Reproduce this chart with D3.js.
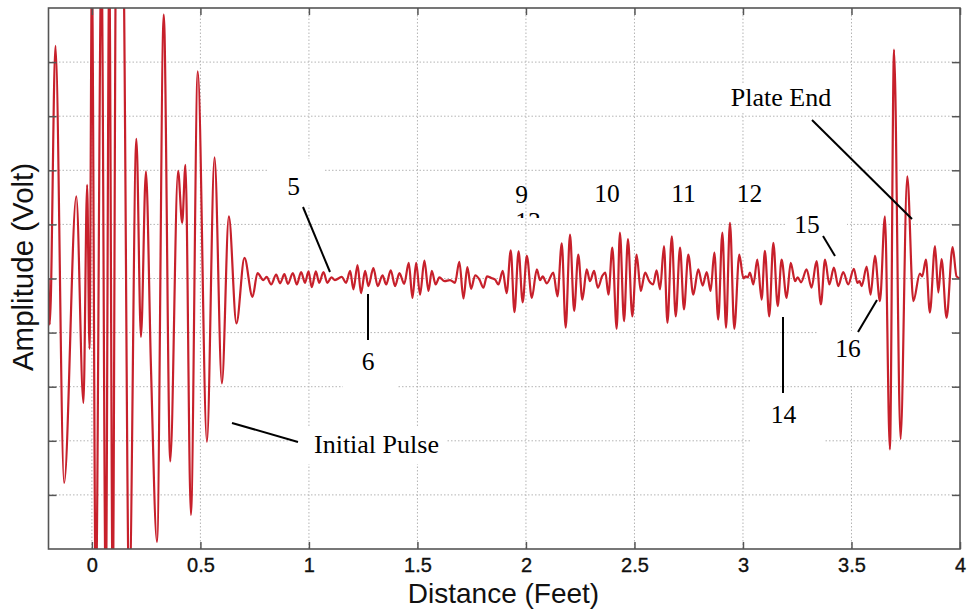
<!DOCTYPE html>
<html><head><meta charset="utf-8">
<script src="https://cdn.jsdelivr.net/npm/d3@7"></script>
<style>html,body{margin:0;padding:0;background:#fff}svg{display:block}</style>
</head><body>
<svg id="chart" width="968" height="609"></svg>
<script>
// ---- data (distance in feet, amplitude in volts; +/-6 = saturated off-scale) ----
const distance = [
 -0.200,-0.194,-0.168,-0.128,-0.072,-0.039,-0.022,-0.011,0.000,0.018,0.044,0.064,0.080,0.096,0.112,0.142,0.172,
 0.205,0.226,0.249,0.272,0.300,0.331,0.361,0.397,0.416,0.431,0.456,0.488,0.530,0.565,0.599,0.631,0.666,0.703,0.740,
 0.763,0.790,0.805,0.826,0.849,0.867,0.887,0.903,0.926,0.944,0.964,0.982,0.998,1.013,1.032,1.047,1.067,1.085,1.104,1.120,
 1.151,1.171,1.190,1.205,1.224,1.240,1.259,1.274,1.297,1.317,1.339,1.356,1.377,1.397,1.417,1.439,
 1.460,1.477,1.494,1.512,1.532,1.551,1.566,1.584,1.601,1.625,1.650,1.673,1.693,1.712,1.730,1.747,1.766,1.786,1.804,
 1.820,1.840,1.858,1.873,1.893,1.911,1.930,1.947,1.966,1.985,2.004,2.027,2.050,2.065,2.077,2.096,2.126,2.145,
 2.165,2.183,2.203,2.222,2.241,2.260,2.280,2.295,2.314,2.331,2.352,2.366,2.380,2.398,2.418,2.433,2.452,2.470,2.490,
 2.510,2.529,2.549,2.568,2.586,2.602,2.618,2.636,2.652,2.672,2.690,2.710,2.728,2.748,2.771,2.794,2.814,2.833,2.851,
 2.868,2.886,2.905,2.922,2.940,2.960,2.983,3.002,3.012,3.022,3.032,3.048,3.066,3.086,3.101,3.121,3.140,3.160,3.178,
 3.201,3.220,3.240,3.252,3.268,3.293,3.316,3.339,3.359,3.378,3.398,3.419,3.439,3.462,3.485,3.511,3.527,3.537,3.547,
 3.570,3.588,3.608,3.631,3.654,3.677,3.696,3.726,3.757,3.785,3.815,3.826,3.843,3.861,3.885,3.900,3.915,3.938,3.966,3.984,4.000
];
const amplitude = [
 0.00,-0.85,4.30,-3.78,1.52,-2.30,1.73,-1.30,5.60,-6.00,6.00,-6.00,5.80,-6.00,6.50,6.50,-6.00,
 2.58,-1.08,1.98,-1.62,-4.87,4.88,-3.38,1.99,1.03,2.10,-4.37,3.83,-3.02,2.24,-1.94,1.15,-0.83,0.38,-0.34,
 0.10,-0.03,0.03,-0.11,0.07,-0.09,0.08,-0.10,0.10,-0.11,0.12,-0.08,0.13,-0.16,0.13,-0.08,0.12,-0.08,0.02,-0.03,
 0.03,-0.08,0.14,-0.20,0.25,-0.27,0.14,-0.14,0.19,-0.14,0.06,-0.11,0.15,-0.14,0.10,-0.10,
 0.29,-0.36,0.29,-0.30,0.33,-0.23,0.14,-0.11,0.02,-0.05,-0.03,-0.08,0.31,-0.37,0.21,-0.19,0.06,-0.02,-0.17,
 0.04,0.01,-0.02,-0.11,0.14,-0.27,0.52,-0.62,0.50,-0.44,0.42,-0.36,0.17,-0.03,0.04,-0.09,0.11,-0.33,
 0.65,-0.91,0.81,-0.60,0.44,-0.39,0.17,-0.05,0.14,-0.17,0.05,0.11,-0.30,0.57,-0.93,0.85,-0.79,0.73,-0.70,
 0.44,-0.23,0.11,-0.05,-0.11,0.15,-0.20,0.60,-0.82,0.78,-0.70,0.57,-0.57,0.44,-0.30,0.17,-0.13,0.12,-0.23,
 0.48,-0.76,0.85,-0.91,1.03,-0.93,0.44,0.00,0.04,0.02,0.11,-0.11,0.35,-0.39,0.51,-0.70,0.66,-0.51,0.35,
 -0.36,0.29,-0.05,0.02,-0.07,0.17,-0.17,0.32,-0.48,0.35,-0.11,0.20,-0.14,0.12,-0.11,0.18,-0.08,-0.05,-0.14,
 0.22,-0.30,0.42,-0.42,1.15,-3.16,4.23,-2.97,1.89,-0.42,0.09,0.04,0.35,-0.63,0.60,-0.26,0.36,-0.73,0.58,0.04,0.00
];
const xTickValues = [0, 0.5, 1, 1.5, 2, 2.5, 3, 3.5, 4];
const xTickLabels = ["0", "0.5", "1", "1.5", "2", "2.5", "3", "3.5", "4"];
const yTickValues = [-4, -3, -2, -1, 0, 1, 2, 3, 4];
const xTitle = "Distance (Feet)";
const yTitle = "Amplitude (Volt)";
const annotationLabels = ["5", "6", "9", "13", "10", "11", "12", "Plate End", "15", "16", "14", "Initial Pulse"];

// ---- layout ----
const W = 968, H = 609;
const L = 48.5, R = 960, T = 8, B = 549;
const x = d3.scaleLinear().domain([-0.2, 4]).range([L, R]);
const y = d3.scaleLinear().domain([-5, 5]).range([B, T]);
const svg = d3.select("#chart");
const red = "#c7202b";

// label layout (pixel positions): text anchor, baseline, pointer line, white background box
const annLayout = {
  "5":  {tx: 293.5, ty: 195, line: [303,207,330,272], box: [268,159,55,46]},
  "6":  {tx: 368, ty: 370, line: [368,294,368,340], box: [343,342,55,52]},
  "9":  {tx: 521.5, ty: 203},
  "13": {tx: 528, ty: 230, clip: 218},
  "10": {tx: 607, ty: 202},
  "11": {tx: 683.5, ty: 202},
  "12": {tx: 749.5, ty: 202, box: [730,180,40,28]},
  "Plate End": {tx: 781, ty: 106, line: [812,120,912,219], box: [728,84,107,28]},
  "15": {tx: 807, ty: 233, line: [823,236,835,256], box: [787,205,60,34]},
  "16": {tx: 848, ty: 357, line: [858,332,877,300], box: [817,331,133,55]},
  "14": {tx: 783.5, ty: 423, line: [783,317,783,393], box: [750,396,75,54]},
  "Initial Pulse": {tx: 314, ty: 453, anchor: "start", line: [232,423,298,442], box: [297,428,150,36]}
};

// grid
const grid = svg.append("g").attr("stroke", "#b4b4b4").attr("stroke-width", 1).attr("stroke-dasharray", "1.5,2");
grid.selectAll("line.v").data(xTickValues.filter(v => v < 4)).join("line")
  .attr("x1", d => x(d)).attr("x2", d => x(d)).attr("y1", T).attr("y2", B);
grid.selectAll("line.h").data(yTickValues).join("line")
  .attr("x1", L).attr("x2", R).attr("y1", d => y(d)).attr("y2", d => y(d));

// white label boxes hiding the grid
svg.append("g").selectAll("rect").data(annotationLabels.filter(k => annLayout[k].box)).join("rect")
  .attr("x", k => annLayout[k].box[0]).attr("y", k => annLayout[k].box[1])
  .attr("width", k => annLayout[k].box[2]).attr("height", k => annLayout[k].box[3]).attr("fill", "#fff");

// signal
svg.append("clipPath").attr("id", "plot").append("rect").attr("x", L).attr("y", T).attr("width", R - L).attr("height", B - T);
const pts = distance.map((d, i) => [d, amplitude[i]]);
svg.append("path").datum(pts).attr("clip-path", "url(#plot)")
  .attr("fill", "none").attr("stroke", red).attr("stroke-width", 2.2).attr("stroke-linejoin", "round")
  .attr("d", d3.line().x(d => x(d[0])).y(d => y(d[1])).curve(d3.curveMonotoneX));

// axes (ticks inward on all sides)
const axCol = "#555";
const tl = 8;
svg.append("g").attr("transform", `translate(0,${B})`)
  .call(d3.axisBottom(x).tickValues(xTickValues).tickSizeInner(-7).tickSizeOuter(0).tickPadding(11).tickFormat((d, i) => xTickLabels[i]))
  .call(g => { g.select(".domain").remove();
    g.selectAll(".tick line").attr("stroke", axCol).attr("stroke-width", 1.5);
    g.selectAll(".tick text").attr("font-family", "'Liberation Sans', Arial, sans-serif").attr("font-size", 20)
      .attr("fill", "#111").attr("stroke", "#111").attr("stroke-width", 0.35).attr("dy", "0.62em"); });
svg.append("g").attr("transform", `translate(0,${T})`)
  .call(d3.axisTop(x).tickValues(xTickValues).tickSizeInner(-7).tickSizeOuter(0).tickFormat(""))
  .call(g => { g.select(".domain").remove(); g.selectAll(".tick line").attr("stroke", axCol).attr("stroke-width", 1.5); });
svg.append("g").attr("transform", `translate(${L},0)`)
  .call(d3.axisLeft(y).tickValues(yTickValues).tickSizeInner(-tl).tickSizeOuter(0).tickFormat(""))
  .call(g => { g.select(".domain").remove(); g.selectAll(".tick line").attr("stroke", axCol).attr("stroke-width", 1.5); });
svg.append("g").attr("transform", `translate(${R},0)`)
  .call(d3.axisRight(y).tickValues(yTickValues).tickSizeInner(-tl).tickSizeOuter(0).tickFormat(""))
  .call(g => { g.select(".domain").remove(); g.selectAll(".tick line").attr("stroke", axCol).attr("stroke-width", 1.5); });
svg.append("rect").attr("x", L).attr("y", T).attr("width", R - L).attr("height", B - T)
  .attr("fill", "none").attr("stroke", axCol).attr("stroke-width", 1.6);

// axis titles
svg.append("text").attr("x", 503.5).attr("y", 602.5).attr("text-anchor", "middle")
  .attr("font-family", "'Liberation Sans', Arial, sans-serif").attr("font-size", 28).attr("fill", "#111").text(xTitle);
svg.append("text").attr("transform", "translate(33,267) rotate(-90)").attr("text-anchor", "middle")
  .attr("font-family", "'Liberation Sans', Arial, sans-serif").attr("font-size", 29.5).attr("fill", "#111").text(yTitle);

// annotations
svg.append("clipPath").attr("id", "clip13").append("rect").attr("x", 490).attr("y", 0).attr("width", 80).attr("height", annLayout["13"].clip);
const ann = svg.append("g");
ann.selectAll("line").data(annotationLabels.filter(k => annLayout[k].line)).join("line")
  .attr("x1", k => annLayout[k].line[0]).attr("y1", k => annLayout[k].line[1])
  .attr("x2", k => annLayout[k].line[2]).attr("y2", k => annLayout[k].line[3])
  .attr("stroke", "#000").attr("stroke-width", 2);
ann.selectAll("text").data(annotationLabels).join("text")
  .attr("x", k => annLayout[k].tx).attr("y", k => annLayout[k].ty)
  .attr("text-anchor", k => annLayout[k].anchor || "middle")
  .attr("clip-path", k => annLayout[k].clip ? "url(#clip13)" : null)
  .attr("font-family", "'Liberation Serif', 'Times New Roman', serif")
  .attr("font-size", k => k.length > 2 ? 26 : 25.5).attr("fill", "#000").text(k => k);
</script>
</body></html>
